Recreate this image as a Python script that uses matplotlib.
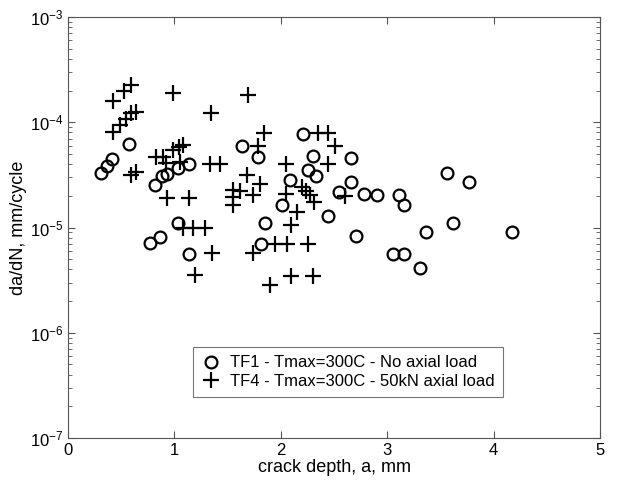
import matplotlib
matplotlib.use('Agg')
import matplotlib.pyplot as plt
from matplotlib.ticker import LogLocator, NullFormatter
from matplotlib import rcParams

rcParams['font.family'] = ['Liberation Sans', 'DejaVu Sans']
rcParams['mathtext.default'] = 'regular'

# TF1 - no axial load (circles)
tf1_a = [0.307, 0.363, 0.41, 0.573, 0.818, 0.88, 0.933, 1.037, 1.14, 1.037,
         0.771, 0.865, 1.14, 1.632, 1.79, 2.206, 2.30, 2.66, 2.253, 2.33,
         2.086, 2.66, 2.55, 2.78, 2.907, 3.108, 3.161, 2.008, 2.447, 1.852,
         3.36, 2.707, 1.811, 3.058, 3.161, 3.31, 3.565, 3.766, 3.62, 4.173]
tf1_rate = [3.3e-5, 3.84e-5, 4.45e-5, 6.2e-5, 2.53e-5, 3.1e-5, 3.2e-5, 3.65e-5, 4.0e-5, 1.1e-5,
            7.1e-6, 8.2e-6, 5.6e-6, 5.9e-5, 4.7e-5, 7.7e-5, 4.8e-5, 4.6e-5, 3.5e-5, 3.1e-5,
            2.8e-5, 2.7e-5, 2.19e-5, 2.08e-5, 2.04e-5, 2.04e-5, 1.62e-5, 1.62e-5, 1.3e-5, 1.11e-5,
            9.1e-6, 8.3e-6, 7.0e-6, 5.55e-6, 5.55e-6, 4.1e-6, 3.3e-5, 2.72e-5, 1.11e-5, 9.1e-6]

# TF4 - 50kN axial load (pluses)
tf4_a = [0.589, 0.526, 0.42, 0.592, 0.639, 0.545, 0.489, 0.426, 0.99, 1.341,
         1.695, 0.827, 0.89, 0.99, 1.046, 1.084, 0.921, 1.05, 0.592, 0.639,
         0.933, 1.14, 1.335, 1.43, 1.55, 1.55, 1.55, 1.617, 1.68, 1.74,
         1.805, 1.789, 1.842, 2.353, 2.447, 2.509, 2.049, 2.447, 2.049, 2.196,
         2.24, 2.27, 2.31, 2.6, 2.155, 2.10, 1.084, 1.178, 1.288, 1.35,
         1.194, 1.735, 1.945, 2.055, 2.259, 1.898, 2.10, 2.30]
tf4_rate = [2.26e-4, 2.0e-4, 1.6e-4, 1.23e-4, 1.26e-4, 1.07e-4, 9.4e-5, 8.1e-5, 1.9e-4, 1.22e-4,
            1.8e-4, 4.65e-5, 4.7e-5, 5.4e-5, 5.8e-5, 6.1e-5, 4.1e-5, 4.2e-5, 3.15e-5, 3.4e-5,
            1.9e-5, 1.9e-5, 4.0e-5, 4.0e-5, 2.27e-5, 1.96e-5, 1.64e-5, 2.2e-5, 3.15e-5, 2.04e-5,
            2.6e-5, 5.9e-5, 7.96e-5, 7.96e-5, 7.96e-5, 5.9e-5, 4.0e-5, 4.0e-5, 2.1e-5, 2.44e-5,
            2.2e-5, 2.04e-5, 1.76e-5, 2.0e-5, 1.41e-5, 1.06e-5, 9.8e-6, 9.8e-6, 9.8e-6, 5.7e-6,
            3.5e-6, 5.7e-6, 7.0e-6, 7.0e-6, 7.0e-6, 2.85e-6, 3.46e-6, 3.46e-6]

fig = plt.figure(figsize=(6.21, 4.84), dpi=100)
ax = fig.add_axes([68/621, 1-438/484, 532/621, 421/484])

ax.plot(tf1_a, tf1_rate, 'o', mfc='none', mec='k', ms=8.5, mew=1.6,
        label='TF1 - Tmax=300C - No axial load')
ax.plot(tf4_a, tf4_rate, '+', color='k', ms=11, mew=1.6,
        label='TF4 - Tmax=300C - 50kN axial load')

ax.set_yscale('log')
ax.set_xlim(0, 5)
ax.set_ylim(1e-7, 1e-3)
ax.set_xticks([0, 1, 2, 3, 4, 5])
ax.yaxis.set_major_locator(LogLocator(base=10, numticks=10))
ax.yaxis.set_minor_locator(LogLocator(base=10, subs=range(2, 10), numticks=20))
ax.yaxis.set_minor_formatter(NullFormatter())

ax.tick_params(which='both', direction='in', top=True, right=True,
               colors='#555555', labelcolor='k', labelsize=12)
ax.tick_params(which='major', length=5)
ax.tick_params(which='minor', length=3)
for s in ax.spines.values():
    s.set_color('#555555')

ax.set_xlabel('crack depth, a, mm', fontsize=13, labelpad=1)
ax.set_ylabel('da/dN, mm/cycle', fontsize=13, labelpad=2)

leg = ax.legend(loc='lower left', bbox_to_anchor=(0.235, 0.097), borderaxespad=0,
                fancybox=False, edgecolor='#555555', fontsize=12,
                handletextpad=0.5, handlelength=1.2, borderpad=0.5,
                labelspacing=0.2)
leg.get_frame().set_linewidth(0.8)

fig.savefig('out.png', dpi=100)
